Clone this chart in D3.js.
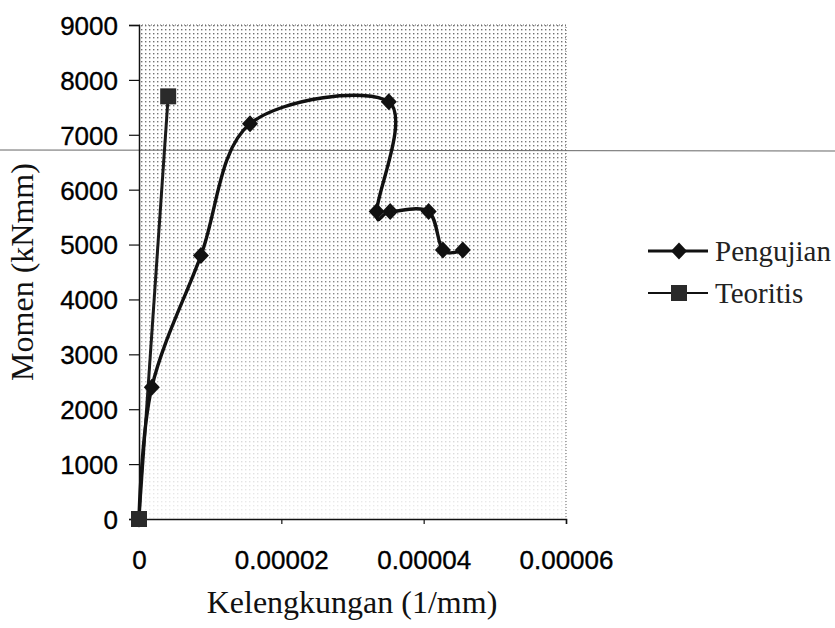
<!DOCTYPE html>
<html>
<head>
<meta charset="utf-8">
<script src="https://cdn.jsdelivr.net/npm/d3@7"></script>
<style>
  html, body { margin: 0; padding: 0; background: #fff; }
  svg { display: block; }
  .tick-label { font-family: "Liberation Sans", Arial, sans-serif; font-size: 26px; fill: #000; stroke: #000; stroke-width: 0.35px; }
  .title { font-family: "Liberation Serif", "Times New Roman", serif; font-size: 32px; fill: #111; }
  .legend-text { font-family: "Liberation Serif", "Times New Roman", serif; font-size: 29px; fill: #222; }
</style>
</head>
<body>
<div id="chart"></div>
<script>
// curvature (1/mm) vs moment (kNmm)
var pengujianX = [0, 0.0000018, 0.0000087, 0.0000156, 0.0000351, 0.0000334, 0.0000353, 0.0000407, 0.0000427, 0.0000455];
var pengujianY = [0, 2400, 4800, 7200, 7600, 5600, 5600, 5600, 4900, 4900];
var teoritisX = [0, 0.0000041];
var teoritisY = [0, 7700];
var xTicks = [0, 0.00002, 0.00004, 0.00006];
var xTickLabels = ['0', '0.00002', '0.00004', '0.00006'];
var yTicks = [0, 1000, 2000, 3000, 4000, 5000, 6000, 7000, 8000, 9000];
var seriesNames = ['Pengujian', 'Teoritis'];

(function () {
  var W = 835, H = 628;
  var plot = { left: 139, right: 566, top: 25, bottom: 519 };

  var svg = d3.select('#chart').append('svg')
    .attr('width', W).attr('height', H);

  var x = d3.scaleLinear().domain([0, 0.00006]).range([plot.left, plot.right]);
  var y = d3.scaleLinear().domain([0, 9000]).range([plot.bottom, plot.top]);

  // halftone look of the grey plot area in the scan
  var defs = svg.append('defs');
  var pat = defs.append('pattern').attr('id', 'dots')
    .attr('width', 4).attr('height', 4).attr('patternUnits', 'userSpaceOnUse');
  pat.append('rect').attr('x', 1).attr('y', 1).attr('width', 1.4).attr('height', 1.4).attr('fill', '#555');
  var grad = defs.append('linearGradient').attr('id', 'fade')
    .attr('x1', 0).attr('y1', 0).attr('x2', 0).attr('y2', 1);
  grad.append('stop').attr('offset', '0%').attr('stop-color', '#fff').attr('stop-opacity', 0.85);
  grad.append('stop').attr('offset', '55%').attr('stop-color', '#fff').attr('stop-opacity', 0.7);
  grad.append('stop').attr('offset', '75%').attr('stop-color', '#fff').attr('stop-opacity', 0.3);
  grad.append('stop').attr('offset', '100%').attr('stop-color', '#fff').attr('stop-opacity', 0.1);
  defs.append('mask').attr('id', 'fadeMask').attr('maskContentUnits', 'userSpaceOnUse')
    .append('rect')
    .attr('x', plot.left).attr('y', plot.top)
    .attr('width', plot.right - plot.left).attr('height', plot.bottom - plot.top)
    .attr('fill', 'url(#fade)');

  svg.append('rect')
    .attr('x', plot.left).attr('y', plot.top)
    .attr('width', plot.right - plot.left).attr('height', plot.bottom - plot.top)
    .attr('fill', 'url(#dots)').attr('mask', 'url(#fadeMask)');

  // dotted frame on top and right
  svg.append('path')
    .attr('d', 'M' + plot.left + ',' + plot.top + 'H' + plot.right + 'V' + plot.bottom)
    .attr('fill', 'none').attr('stroke', '#666').attr('stroke-width', 1)
    .attr('stroke-dasharray', '1,2');

  // scan artefact: thin line across the page
  svg.append('line').attr('x1', 0).attr('x2', W).attr('y1', 150).attr('y2', 151)
    .attr('stroke', '#666').attr('stroke-width', 1);

  // axes
  var yAxis = d3.axisLeft(y).tickValues(yTicks).tickSize(10).tickFormat(d3.format('d'));
  var gy = svg.append('g').attr('transform', 'translate(' + plot.left + ',0)').call(yAxis);
  gy.select('.domain').attr('stroke', '#111').attr('stroke-width', 1.5);
  gy.selectAll('.tick line').attr('stroke', '#111').attr('stroke-width', 1.2);
  gy.selectAll('.tick text').attr('class', 'tick-label')
    .attr('x', -21).attr('dy', '0.36em');

  var xAxis = d3.axisBottom(x).tickValues(xTicks).tickSize(5)
    .tickFormat(function (d, i) { return xTickLabels[i]; });
  var gx = svg.append('g').attr('transform', 'translate(0,' + plot.bottom + ')').call(xAxis);
  gx.select('.domain').attr('stroke', '#111').attr('stroke-width', 1.5);
  gx.selectAll('.tick line').attr('stroke', '#111').attr('stroke-width', 1.2);
  gx.selectAll('.tick text').attr('class', 'tick-label')
    .attr('y', 50).attr('dy', 0);

  // series
  var ptsP = pengujianX.map(function (v, i) { return [v, pengujianY[i]]; });
  var ptsT = teoritisX.map(function (v, i) { return [v, teoritisY[i]]; });

  var smooth = d3.line()
    .x(function (d) { return x(d[0]); })
    .y(function (d) { return y(d[1]); })
    .curve(d3.curveCardinal.tension(0));
  var straight = d3.line()
    .x(function (d) { return x(d[0]); })
    .y(function (d) { return y(d[1]); });

  svg.append('path').datum(ptsT).attr('d', straight)
    .attr('fill', 'none').attr('stroke', '#1a1a1a').attr('stroke-width', 3);
  svg.append('path').datum(ptsP).attr('d', smooth)
    .attr('fill', 'none').attr('stroke', '#111').attr('stroke-width', 3.4);

  var diamond = 'M0,-8.5L8,0L0,8.5L-8,0Z';
  svg.append('g').selectAll('path').data(ptsP).enter().append('path')
    .attr('d', diamond)
    .attr('transform', function (d) { return 'translate(' + x(d[0]) + ',' + y(d[1]) + ')'; })
    .attr('fill', '#111');
  svg.append('g').selectAll('rect').data(ptsT).enter().append('rect')
    .attr('x', function (d) { return x(d[0]) - 8; })
    .attr('y', function (d) { return y(d[1]) - 8; })
    .attr('width', 16).attr('height', 16)
    .attr('fill', '#2a2a2a');

  // axis titles
  svg.append('text').attr('class', 'title')
    .attr('x', 352).attr('y', 613).attr('text-anchor', 'middle')
    .text('Kelengkungan (1/mm)');
  svg.append('text').attr('class', 'title')
    .attr('transform', 'translate(33,272) rotate(-90)')
    .attr('text-anchor', 'middle')
    .text('Momen (kNmm)');

  // legend
  var leg = svg.append('g');
  var rowsY = [251, 293];
  seriesNames.forEach(function (name, i) {
    var g = leg.append('g').attr('transform', 'translate(0,' + rowsY[i] + ')');
    g.append('line').attr('x1', 648).attr('x2', 708).attr('y1', 0).attr('y2', 0)
      .attr('stroke', '#111').attr('stroke-width', i === 0 ? 3 : 2.2);
    if (i === 0) {
      g.append('path').attr('d', diamond).attr('transform', 'translate(679,0)').attr('fill', '#111');
    } else {
      g.append('rect').attr('x', 671).attr('y', -8).attr('width', 16).attr('height', 16).attr('fill', '#2a2a2a');
    }
    g.append('text').attr('class', 'legend-text')
      .attr('x', 715).attr('y', 0).attr('dy', '0.33em')
      .text(name);
  });
})();
</script>
</body>
</html>
